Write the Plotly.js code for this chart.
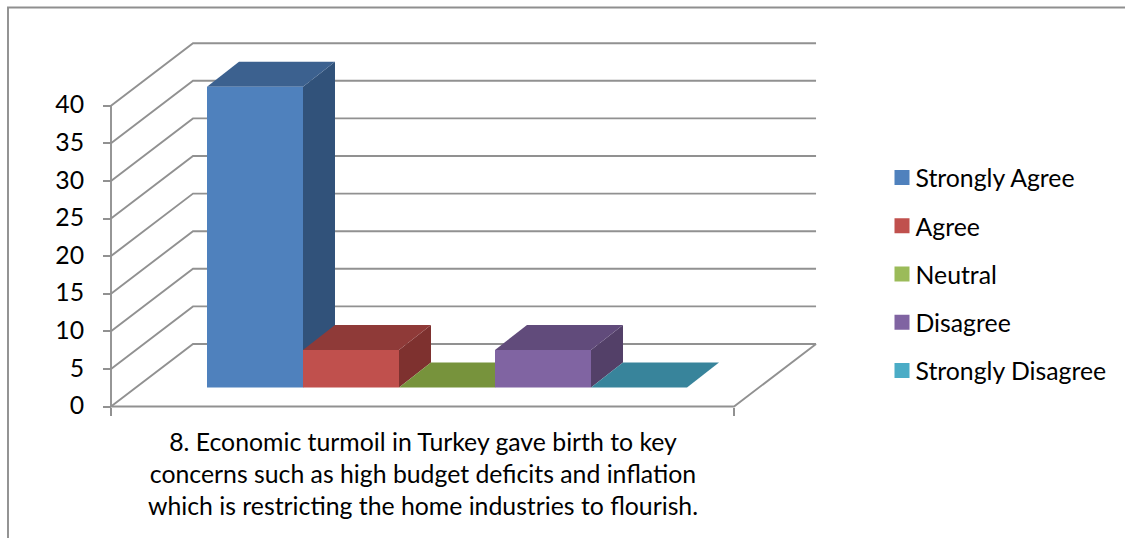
<!DOCTYPE html>
<html>
<head>
<meta charset="utf-8">
<script src="https://cdn.plot.ly/plotly-3.0.1.min.js"></script>
<style>html,body{margin:0;padding:0;background:#fff}#chart{width:1125px;height:538px}</style>
</head>
<body>
<div id="chart"></div>
<script>
// Survey responses for statement 8
const categories = ['Strongly Agree', 'Agree', 'Neutral', 'Disagree', 'Strongly Disagree'];
const values = [40, 5, 0, 5, 0];
const frontColors = ['#4f81bd', '#c0504d', '#9bbb59', '#8064a2', '#4bacc6'];
const topColors = ['#3c618f', '#8f3a38', '#77933c', '#614b7b', '#38849b'];
const sideColors = ['#31527a', '#7e312f', '#647c33', '#534068', '#2f6f83'];
const yTicks = [0, 5, 10, 15, 20, 25, 30, 35, 40];
const statement = '8. Economic turmoil in Turkey gave birth to key<br>concerns such as high budget deficits and inflation<br>which is restricting the home industries to flourish.';

// Oblique projection, in axis units: one x unit is one bar width
const W = 1125, H = 538;
const pxX = 96, pxY = 7.52;
const margin = {l: 108, r: 305, t: 40, b: 128, pad: 0};
const originX = 207, originY = 406.5;
const xRange = [(margin.l - originX) / pxX, (W - margin.r - originX) / pxX];
const yRange = [(originY - (H - margin.b)) / pxY, (originY - margin.t) / pxY];
const floorLeft = -1, floorRight = 5.49;
const wallDx = 82 / pxX, wallDy = 62.5 / pxY;
const barDx = 32 / pxX, barDy = 25 / pxY;
const barBase = 19 / pxY;
const gridStyle = {color: '#919191', width: 1.9};

const polyPath = pts => 'M' + pts.map(p => p[0] + ',' + p[1]).join('L');
const shapes = [];
const addLine = pts => shapes.push({type: 'path', xref: 'x', yref: 'y', layer: 'below', path: polyPath(pts), line: gridStyle});
const addFace = (pts, color) => shapes.push({type: 'path', xref: 'x', yref: 'y', layer: 'below', path: polyPath(pts) + 'Z', fillcolor: color, line: {width: 0}});

// Back wall and side wall rules
yTicks.forEach(v => addLine([[floorLeft, v], [floorLeft + wallDx, v + wallDy], [floorRight + wallDx, v + wallDy]]));
// Floor outline and value spine
addLine([[floorLeft, 0], [floorRight, 0], [floorRight + wallDx, wallDy]]);
addLine([[floorLeft, 0], [floorLeft, yTicks[yTicks.length - 1]]]);

// Depth faces of each column, painted left to right
values.forEach((v, i) => {
  const top = barBase + v;
  if (v > 0) {
    addFace([[i + 1, barBase], [i + 1 + barDx, barBase + barDy], [i + 1 + barDx, top + barDy], [i + 1, top]], sideColors[i]);
  }
  addFace([[i, top], [i + 1, top], [i + 1 + barDx, top + barDy], [i + barDx, top + barDy]], topColors[i]);
});

// Chart frame, top and left edges only
const pX = px => (px - margin.l) / (W - margin.l - margin.r);
const pY = px => 1 - (px - margin.t) / (H - margin.t - margin.b);
shapes.push({type: 'path', xref: 'paper', yref: 'paper', path: polyPath([[pX(8), pY(540)], [pX(8), pY(7.5)], [pX(1125), pY(7.5)]]), line: {color: '#8f8f8f', width: 1.9}});

const columns = categories.map((name, i) => ({
  type: 'bar', x: [i + 0.5], y: [values[i]], base: barBase, width: 1,
  marker: {color: frontColors[i], line: {width: 0}}, showlegend: false, hoverinfo: 'skip'
}));
// Legend keys, larger than the stock bar swatch
const keys = categories.map((name, i) => ({
  type: 'scatter', mode: 'markers', x: [null], y: [null], name, legendgroup: name,
  marker: {symbol: 'square', size: 15, color: frontColors[i]}
}));

const font = {family: 'Lato, sans-serif', size: 24.8, color: '#000'};
const layout = {
  width: W, height: H, margin, barmode: 'overlay', font,
  paper_bgcolor: '#fff', plot_bgcolor: 'rgba(0,0,0,0)', shapes,
  xaxis: {
    range: xRange, domain: [0, 1], anchor: 'free', position: (H - margin.b - originY) / (H - margin.t - margin.b),
    tickmode: 'array', tickvals: [floorLeft, floorRight], ticks: 'outside', ticklen: 8, tickwidth: 2, tickcolor: gridStyle.color,
    showticklabels: false, showgrid: false, zeroline: false, showline: false
  },
  yaxis: {
    range: yRange, domain: [0, 1], anchor: 'free', position: (111 - margin.l) / (W - margin.l - margin.r),
    tickmode: 'array', tickvals: yTicks, ticks: 'outside', ticklen: 8, tickwidth: 2, tickcolor: gridStyle.color,
    ticklabelstandoff: 14, ticklabelshift: -1, tickfont: font, showgrid: false, zeroline: false, showline: false
  },
  legend: {
    x: pX(875.5), y: pY(155), xanchor: 'left', yanchor: 'top', font, tracegroupgap: 13,
    itemclick: false, itemdoubleclick: false, bgcolor: 'rgba(0,0,0,0)'
  },
  annotations: [{
    xref: 'x', yref: 'paper', x: (floorLeft + floorRight) / 2, y: pY(424.5), xanchor: 'center', yanchor: 'top',
    text: statement, showarrow: false, align: 'center', font
  }],
  hovermode: false
};

Plotly.newPlot('chart', columns.concat(keys), layout, {displayModeBar: false, staticPlot: true}).then(() => {
  // Pull the legend keys closer to their labels
  document.querySelectorAll('#chart .legend .legendpoints').forEach(g => {
    g.setAttribute('transform', 'translate(6.5,0)');
  });
});
</script>
</body>
</html>
